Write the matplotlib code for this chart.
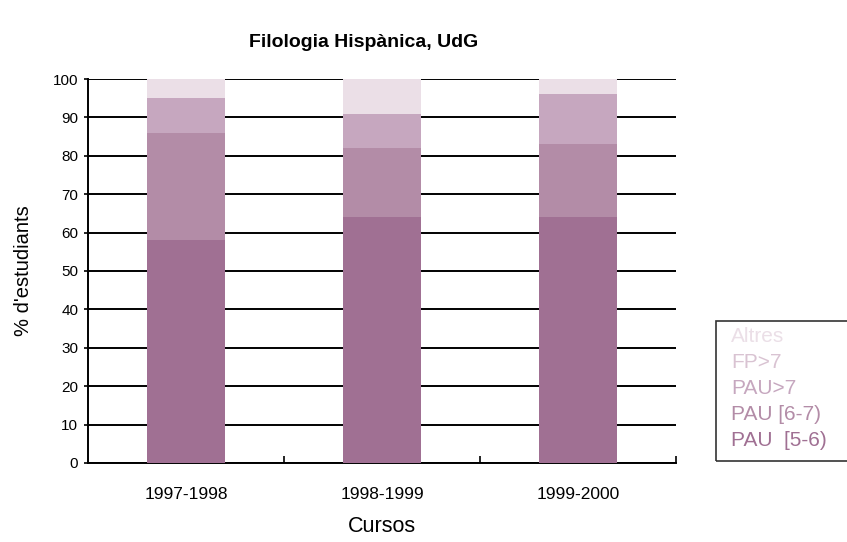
import numpy as np
import matplotlib.pyplot as plt
from matplotlib.patches import Rectangle

plt.rcParams['font.family'] = ['Liberation Sans', 'DejaVu Sans']

cursos = ['1997-1998', '1998-1999', '1999-2000']
series = ['PAU  [5-6)', 'PAU [6-7)', 'PAU>7', 'FP>7', 'Altres']
pau_5_6 = [58, 64, 64]
pau_6_7 = [28, 18, 19]
pau_7 = [9, 9, 13]
fp_7 = [0, 0, 0]
altres = [5, 9, 4]
colors = ['#A07093', '#B38CA7', '#C6A7BF', '#D9C3D2', '#EBDFE7']

fig = plt.figure(figsize=(8.47, 5.42), dpi=100)
ax = fig.add_axes([0.1039, 0.1458, 0.6942, 0.7084])

x = np.arange(len(cursos))
bottom = np.zeros(len(cursos))
for vals, col in zip([pau_5_6, pau_6_7, pau_7, fp_7, altres], colors):
    ax.bar(x, vals, width=0.4, bottom=bottom, color=col, zorder=3)
    bottom += np.array(vals)

ax.set_xlim(-0.5, 2.5)
ax.set_ylim(0, 100)
ax.set_yticks(range(0, 101, 10))
ax.yaxis.grid(True, color='black', linewidth=1.4, zorder=1)
ax.set_axisbelow(True)
ax.tick_params(axis='y', length=3, width=1.2, labelsize=11, pad=4)

ax.set_xticks(x)
ax.set_xticklabels(cursos, fontsize=12.5)
ax.tick_params(axis='x', length=0, pad=17)
ax.set_xticks([0.5, 1.5, 2.5], minor=True)
ax.tick_params(axis='x', which='minor', direction='in', length=5, width=1.2)

for s in ['top', 'right']:
    ax.spines[s].set_visible(False)
for s in ['left', 'bottom']:
    ax.spines[s].set_linewidth(1.4)

ax.set_ylabel("% d'estudiants", fontsize=14.5, labelpad=14)
fig.text(382 / 847, 1 - 527 / 542, 'Cursos', fontsize=15.5, ha='center', va='center')
fig.text(364 / 847, 1 - 42 / 542, 'Filologia Hispànica, UdG', fontsize=14,
         fontweight='bold', ha='center', va='center')

# legend box with coloured labels only
fig.patches.append(Rectangle((716 / 847, 1 - 461 / 542), 140 / 847, 140 / 542,
                             transform=fig.transFigure, fill=False,
                             edgecolor='#333333', linewidth=1.2))
for i, (name, col) in enumerate(zip(series[::-1], colors[::-1])):
    fig.text(731 / 847, 1 - (336 + i * 26) / 542, name, fontsize=15, color=col,
             ha='left', va='center')

fig.savefig('out.png', dpi=100)
